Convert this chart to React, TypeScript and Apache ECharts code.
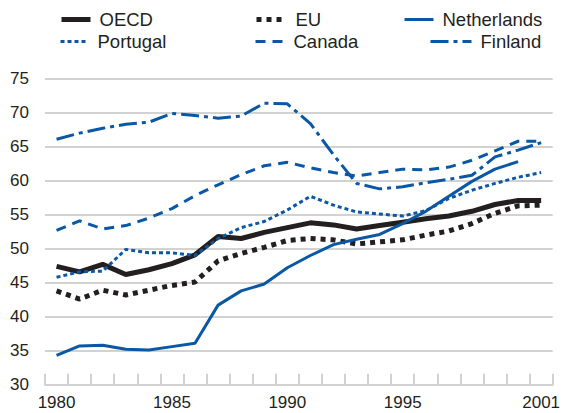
import React, { useEffect, useRef } from "react";
import * as echarts from "echarts";

const years = ["1980","1981","1982","1983","1984","1985","1986","1987","1988","1989","1990","1991","1992","1993","1994","1995","1996","1997","1998","1999","2000","2001"];
const shownYearIdx = [0, 5, 10, 15, 21];
const yTicks = { min: 30, max: 75, interval: 5 };

const oecd = [47.4, 46.6, 47.7, 46.2, 46.9, 47.8, 49.1, 51.8, 51.5, 52.4, 53.1, 53.8, 53.5, 52.9, 53.4, 53.9, 54.4, 54.8, 55.5, 56.5, 57.1, 57.1];
const eu = [43.8, 42.6, 43.9, 43.2, 43.9, 44.6, 45.1, 48.2, 49.3, 50.2, 51.2, 51.5, 51.3, 50.7, 51.0, 51.3, 52.0, 52.6, 53.7, 55.2, 56.3, 56.4];
const netherlands = [34.3, 35.7, 35.8, 35.2, 35.1, 35.6, 36.1, 41.7, 43.8, 44.8, 47.2, 49.0, 50.6, 51.4, 52.1, 53.7, 55.5, 57.7, 59.9, 61.7, 62.8, null];
const portugal = [45.8, 46.6, 46.7, 49.9, 49.4, 49.4, 49.0, 51.5, 53.1, 54.0, 55.7, 57.7, 56.4, 55.4, 55.1, 54.8, 55.6, 57.4, 58.6, 59.6, 60.5, 61.2];
const canada = [52.7, 54.1, 52.9, 53.4, 54.5, 55.9, 57.8, 59.4, 60.9, 62.2, 62.7, 61.9, 61.2, 60.7, 61.2, 61.7, 61.6, 62.0, 63.0, 64.4, 65.8, 65.8];
const finland = [66.1, 67.0, 67.7, 68.3, 68.6, 69.9, 69.6, 69.2, 69.5, 71.4, 71.3, 68.4, 63.8, 59.6, 58.8, 59.1, 59.7, 60.2, 60.8, 63.5, 64.5, 65.6];

const BLUE = "#0a58a5";
const BLACK = "#231f20";
const GRID = "#d2d2d2";
const FONT = "'Liberation Sans', Arial, sans-serif";

export default function App() {
  const ref = useRef<HTMLDivElement>(null);
  useEffect(() => {
    if (!ref.current) return;
    const chart = echarts.init(ref.current, undefined, { renderer: "svg" });
    const mk = (name: string, data: (number | null)[], color: string, width: number, type: any) => ({
      name,
      type: "line",
      data,
      symbol: "none",
      lineStyle: { color, width, type, cap: "butt" },
      itemStyle: { color },
      z: 2,
    });
    const legendItem = (name: string, left: number, top: number, w: number, lw: number) => ({
      data: [name],
      left,
      top,
      padding: 0,
      itemWidth: w,
      itemHeight: 14,
      itemGap: 0,
      selectedMode: false,
      itemStyle: { color: "rgba(0,0,0,0)", borderColor: "rgba(0,0,0,0)", borderWidth: 0, opacity: 0 },
      lineStyle: { width: lw },
      textStyle: { fontSize: 18.5, color: BLACK, fontFamily: FONT, padding: [0, 0, 0, 4] },
    });
    chart.setOption({
      animation: false,
      legend: [
        legendItem("OECD", 59, 10, 29, 5),
        legendItem("EU", 254, 10, 30, 5),
        legendItem("Netherlands", 403, 10, 29, 3),
        legendItem("Portugal", 59, 32, 28, 3),
        legendItem("Canada", 254, 32, 29, 3),
        legendItem("Finland", 429, 32, 41, 3),
      ],
      grid: { left: 45, right: 7, top: 78.7, bottom: 28.3 },
      xAxis: {
        type: "category",
        data: years,
        boundaryGap: true,
        axisLine: { show: true, lineStyle: { color: GRID, width: 2 } },
        axisTick: { show: true, inside: true, length: 11, interval: 0, lineStyle: { color: GRID, width: 2 } },
        axisLabel: {
          interval: (i: number) => shownYearIdx.includes(i),
          fontSize: 17,
          color: BLACK,
          fontFamily: FONT,
          margin: 9,
        },
        splitLine: { show: false },
      },
      yAxis: {
        type: "value",
        min: yTicks.min,
        max: yTicks.max,
        interval: yTicks.interval,
        axisLine: { show: false },
        axisTick: { show: false },
        axisLabel: { fontSize: 17, color: BLACK, fontFamily: FONT, margin: 16 },
        splitLine: { show: true, lineStyle: { color: GRID, width: 2 } },
      },
      series: [
        mk("OECD", oecd, BLACK, 5, "solid"),
        mk("EU", eu, BLACK, 5, [5, 5]),
        mk("Netherlands", netherlands, BLUE, 3, "solid"),
        mk("Portugal", portugal, BLUE, 3, [4, 3]),
        mk("Canada", canada, BLUE, 3, [10, 7]),
        mk("Finland", finland, BLUE, 3, [18, 5, 4, 5]),
      ],
    });
    return () => chart.dispose();
  }, []);
  return <div ref={ref} style={{ position: "absolute", left: 0, top: 0, width: 563, height: 413 }} />;
}
